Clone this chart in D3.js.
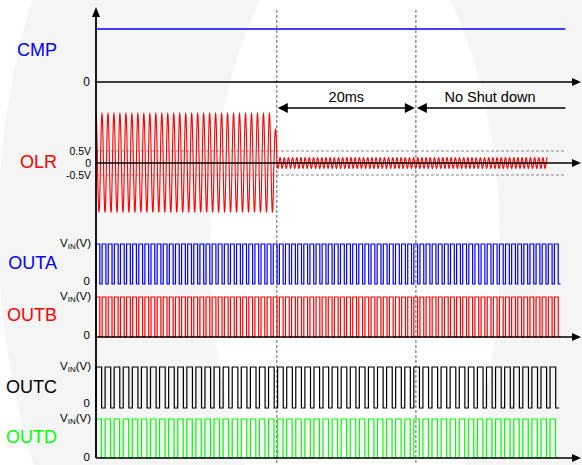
<!DOCTYPE html>
<html><head><meta charset="utf-8">
<script src="https://cdn.jsdelivr.net/npm/d3@7"></script>
<style>body{margin:0;background:#fff}svg{display:block;font-family:"Liberation Sans",Arial,Helvetica,sans-serif}</style>
</head><body><svg id="c" width="582" height="465"></svg>
<script>
// ---------- data ----------
const signalNames = ["CMP", "OLR", "OUTA", "OUTB", "OUTC", "OUTD"];
const signalColors = ["#0000ff", "#ff0000", "#0000ff", "#ff0000", "#000000", "#00ff00"];
const timeMax = 69.6;               // ms at the arrow tips
const markerTimes = [26, 46];       // fault removed, 20 ms later
const spanLabels = ["20ms", "No Shut down"];
const cmpLevel = 1;
const cmpEnd = 67.5;
// OLR waveform segments
const olrSegStart = [0, 25.55, 26.0];
const olrSegEnd = [25.55, 26.0, 64.9];
const olrSegAmp = [2.05, 1.4, 0.22];      // V
const olrSegPeriod = [0.86, 0.9, 0.6];    // ms
const olrRefLevels = [0.5, 0, -0.5];
const olrRefLabels = ["0.5V", "0", "-0.5V"];
// gate outputs
const outNames = ["OUTA", "OUTB", "OUTC", "OUTD"];
const outPulses = [76, 76, 51, 51];
const outEnd = [66.8, 66.8, 66.6, 66.6];
const outDuty = [0.62, 0.62, 0.62, 0.6];

// ---------- layout ----------
const W = 582, H = 465, x0 = 96, xTip = 581;
const svg = d3.select("#c");
const x = d3.scaleLinear().domain([0, timeMax]).range([x0, 580]);

// background
svg.append("rect").attr("width", W).attr("height", H).attr("fill", "#ffffff");
svg.append("circle").attr("cx", 793).attr("cy", 230).attr("r", 795).attr("fill", "#f5f5f5");
svg.append("ellipse").attr("cx", 355).attr("cy", 250).attr("rx", 145).attr("ry", 330).attr("fill", "#ffffff");

// panel y scales
const yCMP = d3.scaleLinear().domain([0, 1]).range([82, 29]);
const yOLR = d3.scaleLinear().domain([-0.5, 0.5]).range([175, 151]);
const outZero = [284, 337, 408, 458];
const outHigh = [244, 297, 367, 419];
const yOut = outNames.map((n, i) => d3.scaleLinear().domain([0, 1]).range([outZero[i], outHigh[i]]));

const g = svg.append("g");

// dashed markers
markerTimes.forEach(t => {
  g.append("line").attr("x1", x(t)).attr("x2", x(t)).attr("y1", 10).attr("y2", H)
    .attr("stroke", "#7a7a7a").attr("stroke-width", 1.2).attr("stroke-dasharray", "3,2");
});
// OLR ±0.5V dashed refs
[0.5, -0.5].forEach(v => {
  g.append("line").attr("x1", x0).attr("x2", x(cmpEnd)).attr("y1", yOLR(v)).attr("y2", yOLR(v))
    .attr("stroke", "#8a8a8a").attr("stroke-width", 1.2).attr("stroke-dasharray", "3,2");
});

// CMP
g.append("line").attr("x1", x(0)).attr("x2", x(cmpEnd)).attr("y1", yCMP(cmpLevel)).attr("y2", yCMP(cmpLevel))
  .attr("stroke", signalColors[0]).attr("stroke-width", 1.5);

// OLR
const olrPts = [];
let phase = Math.PI / 2;
olrSegStart.forEach((s, i) => {
  const e = olrSegEnd[i], p = olrSegPeriod[i], a = olrSegAmp[i];
  for (let t = s; t <= e + 1e-9; t += 0.02) {
    olrPts.push([t, a * Math.sin(phase + 2 * Math.PI * (t - s) / p)]);
  }
  phase = phase + 2 * Math.PI * (e - s) / p;
});
g.append("path").datum(olrPts)
  .attr("d", d3.line().x(d => x(d[0])).y(d => yOLR(d[1])))
  .attr("fill", "none").attr("stroke", signalColors[1]).attr("stroke-width", 1.1);

// square waves
outNames.forEach((n, i) => {
  const per = outEnd[i] / outPulses[i];
  const pts = [[0, 0]];
  for (let k = 0; k < outPulses[i]; k++) {
    const t0 = k * per, t1 = t0 + outDuty[i] * per, t2 = t0 + per;
    pts.push([t0, 0], [t0, 1], [t1, 1], [t1, 0], [t2, 0]);
  }
  g.append("path").datum(pts)
    .attr("d", d3.line().x(d => x(d[0])).y(d => yOut[i](d[1])))
    .attr("fill", "none").attr("stroke", signalColors[i + 2]).attr("stroke-width", 1.2)
    .attr("stroke-linejoin", "miter");
});

// axes
const ax = svg.append("g").attr("stroke", "#000").attr("fill", "#000");
ax.append("line").attr("x1", x0).attr("x2", x0).attr("y1", 458).attr("y2", 14).attr("stroke-width", 1.8);
ax.append("path").attr("d", `M${x0},7 L${x0 - 4},17 L${x0 + 4},17 Z`).attr("stroke", "none");
[yCMP(0), yOLR(0), outZero[1], outZero[3]].forEach(yy => {
  ax.append("line").attr("x1", x0).attr("x2", 574).attr("y1", yy).attr("y2", yy).attr("stroke-width", 1.6);
  ax.append("path").attr("d", `M${xTip},${yy} L${xTip - 9},${yy - 4} L${xTip - 9},${yy + 4} Z`).attr("stroke", "none");
});

// span arrows
const ya = 108;
ax.append("line").attr("x1", x(markerTimes[0]) + 6).attr("x2", x(markerTimes[1]) - 6).attr("y1", ya).attr("y2", ya).attr("stroke-width", 1.6);
ax.append("path").attr("d", `M${x(markerTimes[0]) + 1},${ya} l10,-5 l0,10 Z`).attr("stroke", "none");
ax.append("path").attr("d", `M${x(markerTimes[1]) - 1},${ya} l-10,-5 l0,10 Z`).attr("stroke", "none");
ax.append("line").attr("x1", x(markerTimes[1]) + 6).attr("x2", x(cmpEnd)).attr("y1", ya).attr("y2", ya).attr("stroke-width", 1.6);
ax.append("path").attr("d", `M${x(markerTimes[1]) + 1},${ya} l10,-5 l0,10 Z`).attr("stroke", "none");

const tx = svg.append("g");
tx.append("text").attr("x", (x(markerTimes[0]) + x(markerTimes[1])) / 2).attr("y", 102)
  .attr("text-anchor", "middle").attr("font-size", 14.5).text(spanLabels[0]);
tx.append("text").attr("x", 490).attr("y", 102)
  .attr("text-anchor", "middle").attr("font-size", 14.5).text(spanLabels[1]);

// signal names
const nameY = [50, 162, 263, 315, 387, 437];
signalNames.forEach((n, i) => {
  tx.append("text").attr("x", 57).attr("y", nameY[i]).attr("dy", "0.36em")
    .attr("text-anchor", "end").attr("font-size", 18).attr("fill", signalColors[i]).text(n);
});

// level labels
const small = 12;
tx.append("text").attr("x", 90).attr("y", yCMP(0)).attr("dy", "0.36em").attr("text-anchor", "end").attr("font-size", small).text("0");
olrRefLevels.forEach((v, i) => {
  tx.append("text").attr("x", 91).attr("y", yOLR(v)).attr("dy", "0.34em").attr("text-anchor", "end").attr("font-size", 10.5).text(olrRefLabels[i]);
});
const zeroLabelY = [281, 335, 403, 457];
outNames.forEach((n, i) => {
  tx.append("text").attr("x", 90).attr("y", zeroLabelY[i]).attr("dy", "0.34em").attr("text-anchor", "end").attr("font-size", 11.5).text("0");
  const t = tx.append("text").attr("x", 91).attr("y", outHigh[i]).attr("dy", "0.3em").attr("text-anchor", "end").attr("font-size", 11.5);
  t.append("tspan").text("V");
  t.append("tspan").attr("font-size", 8).attr("dy", "0.15em").text("IN");
  t.append("tspan").attr("dy", "-0.15em").text("(V)");
});
</script></body></html>
